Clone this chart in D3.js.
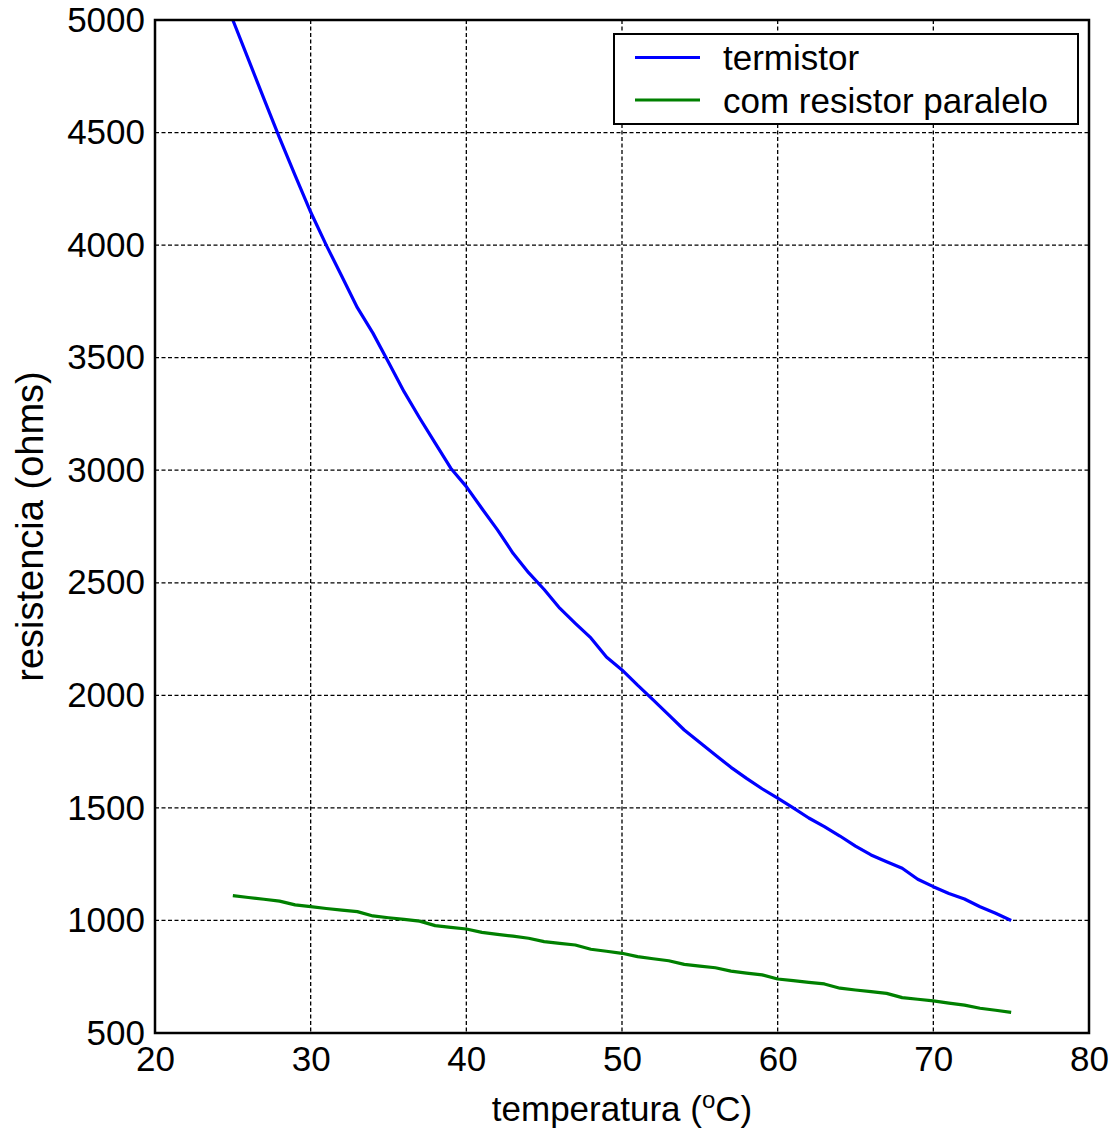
<!DOCTYPE html>
<html>
<head>
<meta charset="utf-8">
<script src="https://cdn.jsdelivr.net/npm/d3@7"></script>
<style>
  body { margin: 0; background: #fff; }
  text { font-family: "Liberation Sans", Arial, sans-serif; fill: #000; }
</style>
</head>
<body>
<svg width="1114" height="1130"></svg>
<script>

// temperatura (oC)
let temps = d3.range(25, 76)

// resistencia do termistor (ohms)
let termistor = [
  5000, 4825, 4650, 4476, 4310, 4147, 4000, 3862, 3722, 3609,
  3480, 3349, 3232, 3120, 3009, 2927, 2830, 2735, 2631, 2545,
  2470, 2387, 2320, 2255, 2170, 2113, 2045, 1980, 1913, 1846,
  1790, 1735, 1680, 1631, 1585, 1543, 1500, 1455, 1417, 1375,
  1330, 1291, 1261, 1232, 1183, 1150, 1120, 1095, 1061, 1032,
  1000
]

// com resistor paralelo
let paralelo = [
  1110, 1102, 1094, 1086, 1069, 1061, 1053, 1046, 1039, 1020,
  1012, 1005, 997, 977, 969, 962, 947, 938, 930, 921,
  906, 898, 891, 872, 863, 854, 839, 830, 821, 805,
  797, 790, 775, 766, 758, 740, 733, 725, 718, 699,
  691, 684, 676, 657, 650, 643, 633, 624, 610, 601,
  592
]

let xTicks = [20, 30, 40, 50, 60, 70, 80]
let yTicks = [500, 1000, 1500, 2000, 2500, 3000, 3500, 4000, 4500, 5000]
let seriesNames = ['termistor', 'com resistor paralelo']
let seriesColors = ['#0000ff', '#008000']

let svg = d3.select('svg')
let mLeft = 155, mRight = 1089, mTop = 20, mBottom = 1033

let x = d3.scaleLinear().domain([20, 80]).range([mLeft, mRight])
let y = d3.scaleLinear().domain([500, 5000]).range([mBottom, mTop])

// grid
let grid = svg.append('g').attr('stroke', '#000').attr('stroke-width', 1.3).attr('stroke-dasharray', '4,2.5')
grid.selectAll('.gx').data(xTicks.slice(1, -1)).enter().append('line')
  .attr('x1', d => x(d)).attr('x2', d => x(d)).attr('y1', mTop).attr('y2', mBottom)
grid.selectAll('.gy').data(yTicks.slice(1, -1)).enter().append('line')
  .attr('x1', mLeft).attr('x2', mRight).attr('y1', d => y(d)).attr('y2', d => y(d))

// axes (labels only, ticks hidden under the grid)
let xAxis = svg.append('g').attr('transform', `translate(0,${mBottom})`)
  .call(d3.axisBottom(x).tickValues(xTicks).tickFormat(d3.format('d')).tickSize(0).tickPadding(13))
let yAxis = svg.append('g').attr('transform', `translate(${mLeft},0)`)
  .call(d3.axisLeft(y).tickValues(yTicks).tickFormat(d3.format('d')).tickSize(0).tickPadding(10))
svg.selectAll('.domain').remove()
svg.selectAll('.tick text').attr('font-size', 35).attr('font-family', '"Liberation Sans", Arial, sans-serif').attr('fill', '#000')
xAxis.selectAll('.tick text').attr('dy', '0.72em')

// lines
let line = d3.line().x((d, i) => x(temps[i])).y(d => y(d))
;[termistor, paralelo].forEach((s, i) => {
  svg.append('path').datum(s)
    .attr('fill', 'none')
    .attr('stroke', seriesColors[i])
    .attr('stroke-width', 3.2)
    .attr('stroke-linejoin', 'round')
    .attr('d', line)
})

// frame
svg.append('rect')
  .attr('x', mLeft).attr('y', mTop)
  .attr('width', mRight - mLeft).attr('height', mBottom - mTop)
  .attr('fill', 'none').attr('stroke', '#000').attr('stroke-width', 2.5)

// legend
let lg = svg.append('g')
lg.append('rect').attr('x', 614).attr('y', 34).attr('width', 464).attr('height', 90)
  .attr('fill', '#fff').attr('stroke', '#000').attr('stroke-width', 2)
seriesNames.forEach((n, i) => {
  let yy = 57.5 + i * 42.5
  lg.append('line').attr('x1', 635).attr('x2', 700).attr('y1', yy).attr('y2', yy)
    .attr('stroke', seriesColors[i]).attr('stroke-width', 3.2)
  lg.append('text').attr('x', 723).attr('y', yy + 12.5).attr('font-size', 35).text(n)
})

// axis titles
let xl = svg.append('text').attr('x', (mLeft + mRight) / 2).attr('y', 1121)
  .attr('text-anchor', 'middle').attr('font-size', 35)
xl.append('tspan').text('temperatura (')
xl.append('tspan').attr('dy', -13).attr('font-size', 24).text('o')
xl.append('tspan').attr('dy', 13).text('C)')

svg.append('text')
  .attr('transform', `translate(43,${(mTop + mBottom) / 2}) rotate(-90)`)
  .attr('text-anchor', 'middle').attr('font-size', 38)
  .text('resistencia (ohms)')

</script>
</body>
</html>
